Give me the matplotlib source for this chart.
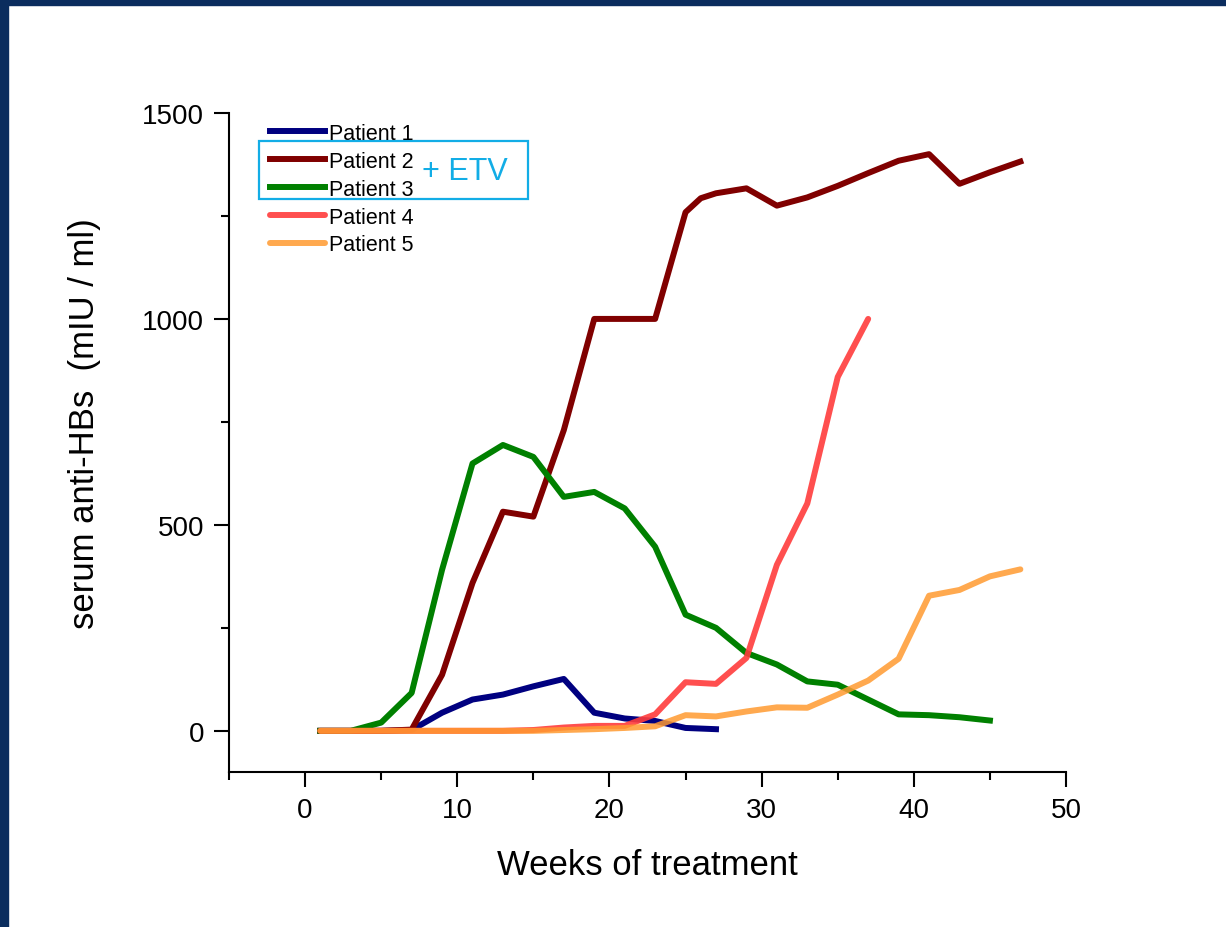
import matplotlib.pyplot as plt
from matplotlib.patches import Rectangle
from matplotlib.ticker import MultipleLocator

plt.rcParams['font.family'] = ['Liberation Sans', 'DejaVu Sans']

# weeks of treatment and serum anti-HBs (mIU/ml) for each patient
weeks_p1 = [1, 3, 5, 7, 9, 11, 13, 15, 17, 19, 21, 23, 25, 27]
anti_hbs_p1 = [0, 0, 0, 2, 44, 76, 88, 108, 126, 44, 30, 24, 7, 4]

weeks_p2 = [1, 3, 5, 7, 9, 11, 13, 15, 17, 19, 21, 23, 25, 26, 27,
            29, 31, 33, 35, 37, 39, 41, 43, 45, 47]
anti_hbs_p2 = [0, 0, 0, 3, 136, 359, 532, 520, 730, 1000, 1000, 1000, 1259, 1293, 1305,
               1317, 1275, 1295, 1323, 1354, 1384, 1400, 1328, 1356, 1382]

weeks_p3 = [1, 3, 5, 7, 9, 11, 13, 15, 17, 19, 21, 23, 25, 27, 29, 31, 33, 35, 37, 39, 41, 43, 45]
anti_hbs_p3 = [0, 0, 20, 92, 391, 649, 694, 665, 568, 580, 540, 447, 282, 250, 189, 161,
               120, 112, 76, 40, 38, 33, 25]

weeks_p4 = [1, 3, 5, 7, 9, 11, 13, 15, 17, 19, 21, 23, 25, 27, 29, 31, 33, 35, 37]
anti_hbs_p4 = [0, 0, 0, 0, 0, 0, 0, 2, 8, 12, 12, 40, 118, 114, 177, 403, 552, 859, 1000]

weeks_p5 = [1, 3, 5, 7, 9, 11, 13, 15, 17, 19, 21, 23, 25, 27, 29, 31, 33, 35, 37, 39, 41, 43, 45, 47]
anti_hbs_p5 = [0, 0, 0, 0, 0, 0, 0, 0, 2, 4, 7, 11, 38, 35, 47, 57, 56, 88, 122, 175,
               328, 342, 375, 392]

labels = ['Patient 1', 'Patient 2', 'Patient 3', 'Patient 4', 'Patient 5']

fig = plt.figure(figsize=(12.26, 9.28), dpi=100)
ax = fig.add_axes([0.1868, 0.167, 0.6827, 0.7102])

# dark frame strips on the left and top edge
fig.patches.append(Rectangle((0, 0), 8 / 1226, 1, transform=fig.transFigure,
                             color='#0b2d5e', zorder=0))
fig.patches.append(Rectangle((0, 1 - 6 / 928), 1, 6 / 928, transform=fig.transFigure,
                             color='#0b2d5e', zorder=0))

lw = 4.3
ax.plot(weeks_p1, anti_hbs_p1, color='#000080', lw=lw, label=labels[0])
ax.plot(weeks_p2, anti_hbs_p2, color='#800000', lw=lw, label=labels[1])
ax.plot(weeks_p3, anti_hbs_p3, color='#008000', lw=lw, label=labels[2])
ax.plot(weeks_p4, anti_hbs_p4, color='#ff3c3c', lw=lw, alpha=0.9,
        solid_capstyle='round', label=labels[3])
ax.plot(weeks_p5, anti_hbs_p5, color='#ff9a30', lw=lw, alpha=0.85,
        solid_capstyle='round', label=labels[4])

ax.set_xlim(-5, 50)
ax.set_ylim(-100, 1500)
ax.xaxis.set_major_locator(MultipleLocator(10))
ax.xaxis.set_minor_locator(MultipleLocator(5))
ax.yaxis.set_major_locator(MultipleLocator(500))
ax.yaxis.set_minor_locator(MultipleLocator(250))

for side in ['top', 'right']:
    ax.spines[side].set_visible(False)
for side in ['left', 'bottom']:
    ax.spines[side].set_linewidth(1.5)

ax.tick_params(which='major', direction='out', length=11, width=1.5, labelsize=20, pad=7)
ax.tick_params(which='minor', direction='out', length=6, width=1.5)

ax.set_xlabel('Weeks of treatment', fontsize=25, labelpad=18)
ax.set_ylabel('serum anti-HBs  (mIU / ml)', fontsize=25)
ax.yaxis.set_label_coords(-0.153, 0.53)

ax.legend(loc='upper left', bbox_to_anchor=(0.049, 0.985), frameon=False,
          fontsize=15.5, handlelength=2.55, handletextpad=0.2, labelspacing=0.32,
          borderpad=0, borderaxespad=0)

# box marking the patients treated with ETV
ax.add_patch(Rectangle((0.0358, 0.8695), 0.3214, 0.088, transform=ax.transAxes,
                       fill=False, edgecolor='#12ade6', lw=1.6, clip_on=False))
ax.text(0.282, 0.912, '+ ETV', transform=ax.transAxes, color='#12ade6',
        fontsize=22, ha='center', va='center')

fig.savefig('out.png', dpi=100)
